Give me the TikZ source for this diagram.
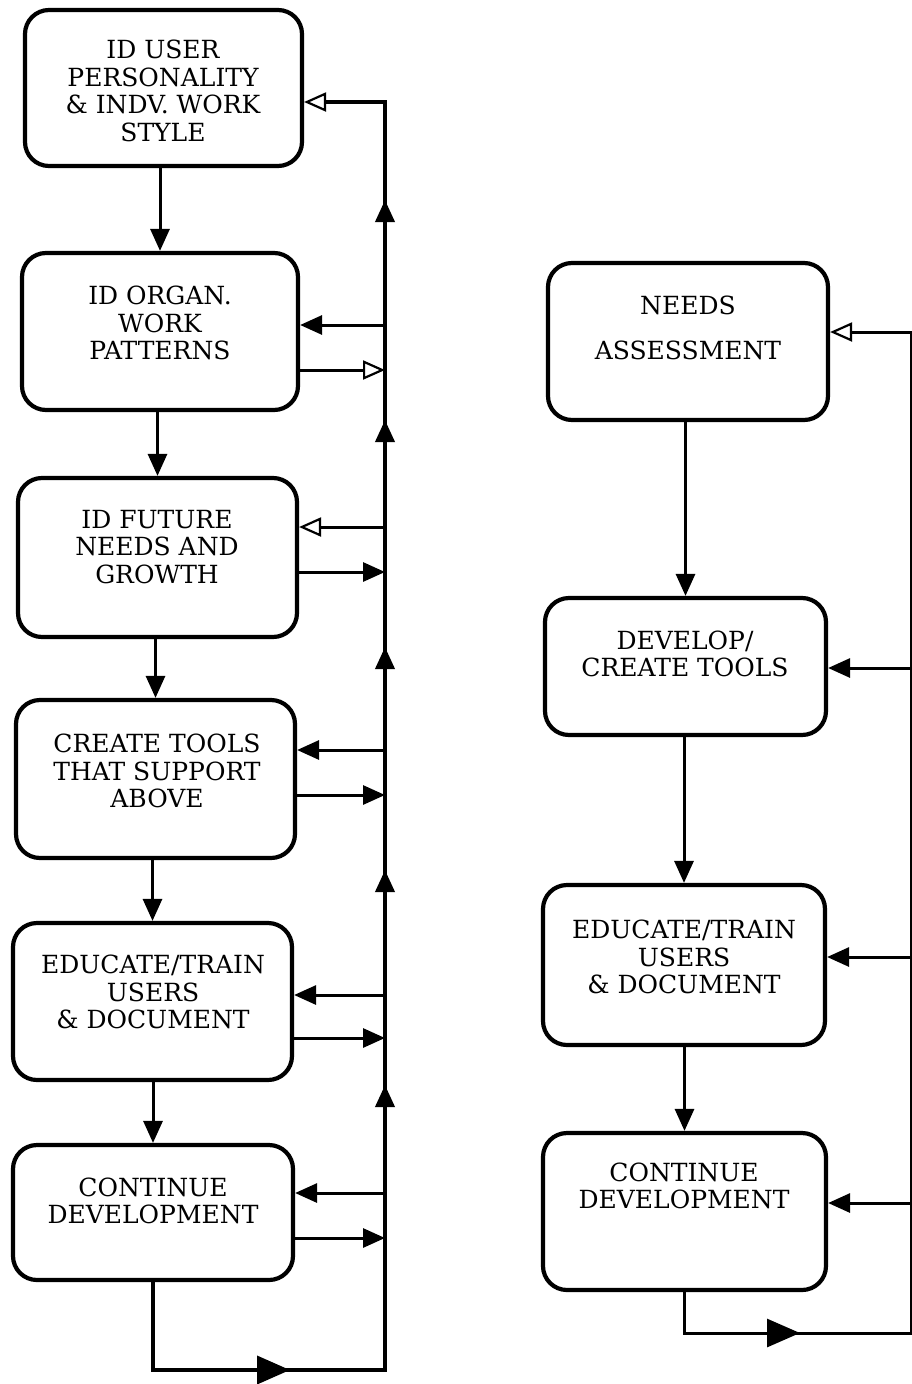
\documentclass[tikz,border=0pt]{standalone}
\usepackage{fontspec}
\setmainfont{DejaVu Serif}
\usetikzlibrary{arrows.meta}
\begin{document}
\begin{tikzpicture}[x=1pt,y=-1pt,
  box/.style={draw, line width=4.2pt, rounded corners=24pt, inner sep=0pt},
  lbl/.style={align=center, font=\fontsize{25}{27.5}\selectfont, inner sep=0pt},
  solidtip/.style={-{Triangle[length=22pt,width=19pt]}},
  opentip/.style={-{Triangle[open,fill=white,length=22pt,width=19pt,line width=2.2pt]}},
  bigtip/.style={-{Triangle[length=33pt,width=28pt]}},
  link/.style={line width=3pt},
  bus/.style={line width=3.8pt},
]
\useasboundingbox (0,0) rectangle (912,1384);
\fill[white] (0,0) rectangle (912,1384);

% ---------- left column ----------
\node[box, minimum width=277pt, minimum height=156pt] (b1) at (163.5,88) {};
\node[box, minimum width=276pt, minimum height=157pt] (b2) at (160,331.5) {};
\node[box, minimum width=279pt, minimum height=159pt] (b3) at (157.5,557.5) {};
\node[box, minimum width=279pt, minimum height=158pt] (b4) at (155.5,779) {};
\node[box, minimum width=279pt, minimum height=157pt] (b5) at (152.5,1001.5) {};
\node[box, minimum width=280pt, minimum height=135pt] (b6) at (153,1212.5) {};

\node[lbl] (t1) at (163,91) {ID USER\\PERSONALITY\\\& INDV. WORK\\STYLE};
\node[lbl] (t2) at (160,323) {ID ORGAN.\\WORK\\PATTERNS};
\node[lbl] (t3) at (157,547) {ID FUTURE\\NEEDS AND\\GROWTH};
\node[lbl] (t4) at (157,771) {CREATE TOOLS\\THAT SUPPORT\\ABOVE};
\node[lbl] (t5) at (153,992) {EDUCATE/TRAIN\\USERS\\\& DOCUMENT};
\node[lbl] (t6) at (153,1201) {CONTINUE\\DEVELOPMENT};

% downward flow
\draw[link, solidtip] (b1.south -| b2.north) -- (b2.north);
\draw[link, solidtip] (b2.south -| b3.north) -- (b3.north);
\draw[link, solidtip] (b3.south -| b4.north) -- (b4.north);
\draw[link, solidtip] (b4.south -| b5.north) -- (b5.north);
\draw[link, solidtip] (b5.south -| b6.north) -- (b6.north);

% feedback bus
\coordinate (busbot) at (385,1370);
\coordinate (bustop) at (385,102);
\coordinate (bm) at (290,1370);
\coordinate (u1) at (385,200);
\coordinate (u2) at (385,420);
\coordinate (u3) at (385,647);
\coordinate (u4) at (385,870);
\coordinate (u5) at (385,1085);
\draw[bus, opentip] (b6.south) |- (busbot) -- (bustop) -- (bustop -| b1.east);
\draw[bus, bigtip] (b6.south) |- (bm);
\draw[bus, solidtip] (busbot) -- (u5);
\draw[bus, solidtip] (u5) -- (u4);
\draw[bus, solidtip] (u4) -- (u3);
\draw[bus, solidtip] (u3) -- (u2);
\draw[bus, solidtip] (u2) -- (u1);

% taps into and out of each box
\coordinate (i2) at (385,325);  \coordinate (o2) at (385,370);
\coordinate (i3) at (385,527);  \coordinate (o3) at (385,572);
\coordinate (i4) at (385,750);  \coordinate (o4) at (385,795);
\coordinate (i5) at (385,995);  \coordinate (o5) at (385,1038);
\coordinate (i6) at (385,1193); \coordinate (o6) at (385,1238);
\draw[link, solidtip] (i2) -- (i2 -| b2.east);
\draw[link, opentip]  (o2 -| b2.east) -- (o2);
\draw[link, opentip]  (i3) -- (i3 -| b3.east);
\draw[link, solidtip] (o3 -| b3.east) -- (o3);
\draw[link, solidtip] (i4) -- (i4 -| b4.east);
\draw[link, solidtip] (o4 -| b4.east) -- (o4);
\draw[link, solidtip] (i5) -- (i5 -| b5.east);
\draw[link, solidtip] (o5 -| b5.east) -- (o5);
\draw[link, solidtip] (i6) -- (i6 -| b6.east);
\draw[link, solidtip] (o6 -| b6.east) -- (o6);

% ---------- right column ----------
\node[box, minimum width=280pt, minimum height=157pt] (r1) at (688,341.5) {};
\node[box, minimum width=281pt, minimum height=137pt] (r2) at (685.5,666.5) {};
\node[box, minimum width=282pt, minimum height=160pt] (r3) at (684,965) {};
\node[box, minimum width=283pt, minimum height=157pt] (r4) at (684.5,1211.5) {};

\node[lbl, font=\fontsize{25}{45}\selectfont] (s1) at (688,328) {NEEDS\\ASSESSMENT};
\node[lbl] (s2) at (685,654) {DEVELOP/\\CREATE TOOLS};
\node[lbl] (s3) at (684,957) {EDUCATE/TRAIN\\USERS\\\& DOCUMENT};
\node[lbl] (s4) at (684,1186) {CONTINUE\\DEVELOPMENT};

\draw[link, solidtip] (r1.south -| r2.north) -- (r2.north);
\draw[link, solidtip] (r2.south -| r3.north) -- (r3.north);
\draw[link, solidtip] (r3.south -| r4.north) -- (r4.north);

\coordinate (rbot) at (911,1333);
\coordinate (rtop) at (911,332);
\coordinate (rm) at (800,1333);
\draw[link, opentip] (r4.south) |- (rbot) -- (rtop) -- (rtop -| r1.east);
\draw[link, bigtip] (r4.south) |- (rm);
\coordinate (k2) at (911,668);
\coordinate (k3) at (911,957);
\coordinate (k4) at (911,1203);
\draw[link, solidtip] (k2) -- (k2 -| r2.east);
\draw[link, solidtip] (k3) -- (k3 -| r3.east);
\draw[link, solidtip] (k4) -- (k4 -| r4.east);
\end{tikzpicture}
\end{document}
